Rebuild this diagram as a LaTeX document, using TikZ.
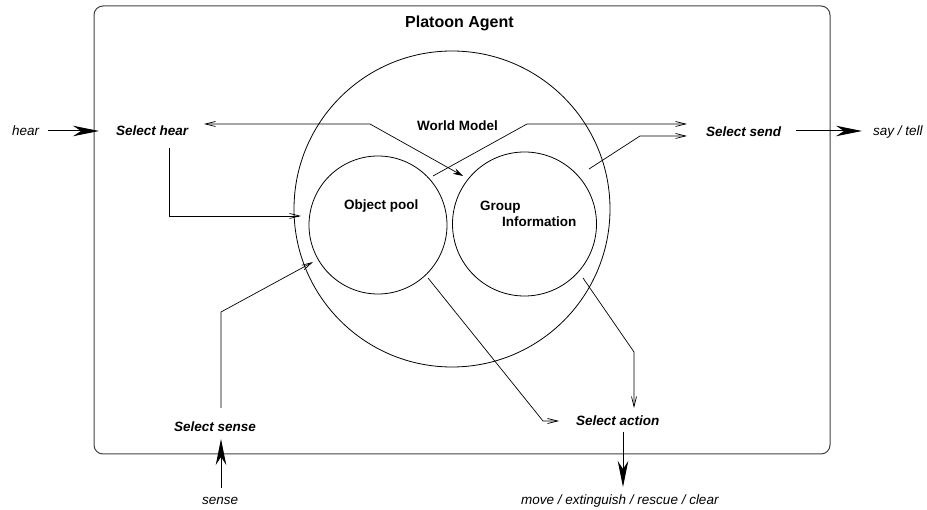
\documentclass[tikz,border=0pt]{standalone}
\usepackage{fontspec}
\setmainfont{Liberation Sans}
\usetikzlibrary{arrows.meta}
\begin{document}
\begin{tikzpicture}[x=1pt,y=-1pt,
  lbl/.style={font=\fontsize{13.5}{15}\selectfont\bfseries, inner sep=0pt, anchor=base west},
  ttl/.style={font=\fontsize{16}{18}\selectfont\bfseries, inner sep=0pt, anchor=base west},
  sel/.style={font=\fontsize{13.5}{15}\selectfont\bfseries\itshape, inner sep=0pt, anchor=base west},
  io/.style={font=\fontsize{13.5}{15}\selectfont\itshape, inner sep=0pt, anchor=base west},
  flow/.style={line width=0.7pt, -{Straight Barb[length=10pt,width=5pt,line width=0.7pt]}},
  bigarrow/.style={line width=1pt, -{Stealth[length=26pt,width=10.5pt,inset=8pt]}},
  ring/.style={draw, circle, line width=0.8pt, inner sep=0pt},
  container/.style={draw=black!75, line width=1pt, rounded corners=9pt, inner sep=0pt}]
\useasboundingbox (0,0) rectangle (927,510);

% container
\node[container, minimum width=736pt, minimum height=448pt] (agent) at (462,230) {};
\node[ttl] (title) at (405,28) {Platoon Agent};

% circles
\node[ring, minimum size=316pt] (wm) at (452,209) {};
\node[ring, minimum size=138pt] (op) at (378,225) {};
\node[ring, minimum size=144pt] (gi) at (524.5,224) {};

% labels
\node[lbl] (wmlabel) at (417,131) {World Model};
\node[lbl] (oplabel) at (344,210) {Object pool};
\node[lbl] (gilabel1) at (480,211) {Group};
\node[lbl] (gilabel2) at (502,227) {Information};

\node[sel] (shear) at (116,136) {Select hear};
\node[io] (hear) at (12,136) {hear};
\node[sel] (ssend) at (706,137) {Select send};
\node[io] (say) at (873,136) {say / tell};
\node[sel] (ssense) at (174,432) {Select sense};
\node[io] (sense) at (202,505) {sense};
\node[sel] (sact) at (576,426) {Select action};
\node[io] (out) at (521,505) {move / extinguish / rescue / clear};

% connector end points
\coordinate (h0) at (48,131);    \coordinate (h1) at (99,131);
\coordinate (a0) at (204,124);   \coordinate (a1) at (370,124);   \coordinate (a2) at (463,176);
\coordinate (b0) at (433,176);   \coordinate (b1) at (527,124);   \coordinate (b2) at (687,124);
\coordinate (c0) at (589,169);   \coordinate (c1) at (640,136);   \coordinate (c2) at (687,136);
\coordinate (s0) at (796,131);   \coordinate (s1) at (862,131);
\coordinate (d0) at (169,148);   \coordinate (d1) at (169,216);   \coordinate (d2) at (301,216);
\coordinate (e0) at (221,408);   \coordinate (e1) at (221,312);   \coordinate (e2) at (313,262);
\coordinate (f0) at (221,488);   \coordinate (f1) at (221,439);
\coordinate (g0) at (428,278);   \coordinate (g1) at (543,421);   \coordinate (g2) at (559,421);
\coordinate (k0) at (583,278);   \coordinate (k1) at (634,352);   \coordinate (k2) at (634,408);
\coordinate (m0) at (623,432);   \coordinate (m1) at (623,487);

% connectors
\draw[bigarrow] (h0) -- (h1);
\draw[line width=0.7pt, {Straight Barb[length=10pt,width=5pt,line width=0.7pt]}-{Stealth[length=10pt,width=6pt]}] (a0) -- (a1) -- (a2);
\draw[flow] (b0) -- (b1) -- (b2);
\draw[flow] (c0) -- (c1) -- (c2);
\draw[bigarrow] (s0) -- (s1);
\draw[flow] (d0) -- (d1) -- (d2);
\draw[flow] (e0) -- (e1) -- (e2);
\draw[bigarrow] (f0) -- (f1);
\draw[flow] (g0) -- (g1) -- (g2);
\draw[flow] (k0) -- (k1) -- (k2);
\draw[bigarrow] (m0) -- (m1);
\end{tikzpicture}
\end{document}
